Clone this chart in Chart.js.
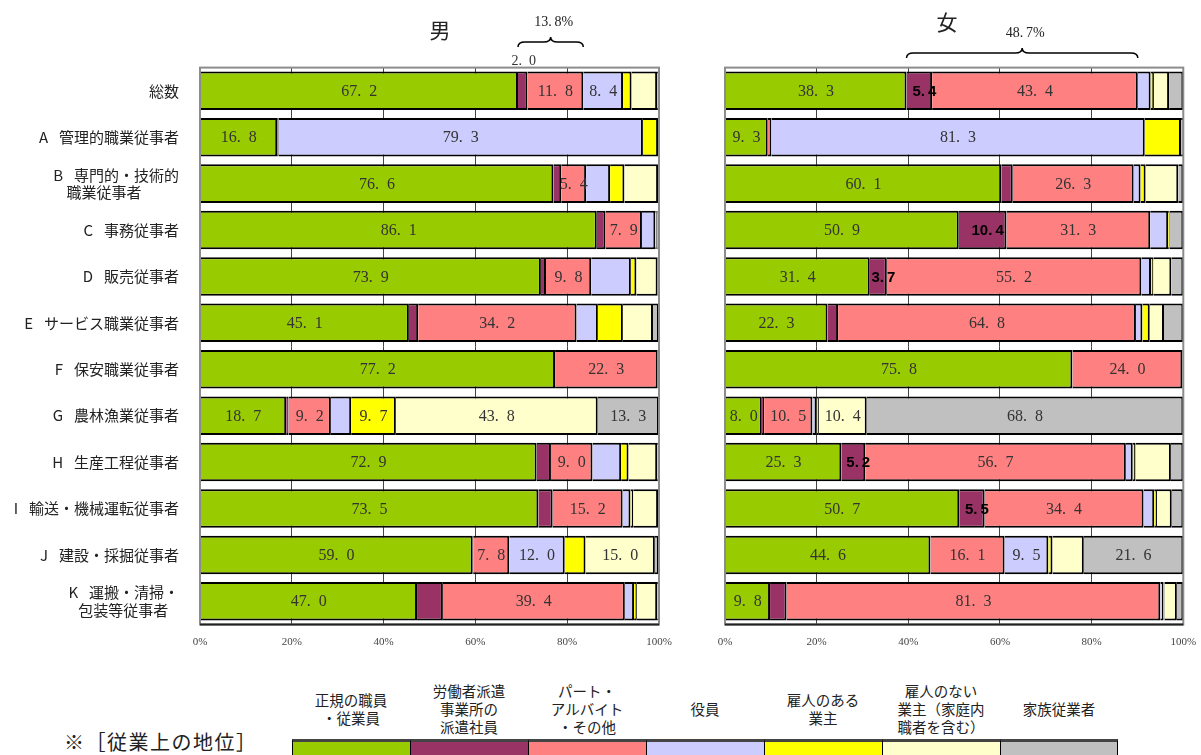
<!DOCTYPE html>
<html lang="ja">
<head>
<meta charset="utf-8">
<script src="https://cdn.jsdelivr.net/npm/chart.js@4.4.1/dist/chart.umd.min.js"></script>
<style>
  html, body { margin: 0; padding: 0; background: #fff; }
  body { width: 1201px; height: 755px; position: relative; overflow: hidden;
         font-family: "Noto Sans CJK JP", sans-serif; color: #222; }
  #male { position: absolute; left: 0; top: 0; }
  #female { position: absolute; left: 690px; top: 0; }
  #legendTitle { position: absolute; left: 64px; top: 729px; font-size: 20px; line-height: 26px; letter-spacing: 1.5px; }
  #legend { position: absolute; left: 292px; top: 680px; width: 826px; }
  .col { position: absolute; top: 0; width: 118px; }
  .txt { height: 58px; display: flex; align-items: center; justify-content: center;
         text-align: center; font-size: 14.5px; line-height: 18px; }
  .box { height: 20px; margin-top: 1px; border-top: 3px solid #444; border-left: 1px solid #000;
         box-sizing: border-box; }
</style>
</head>
<body>
<canvas id="male" width="690" height="660"></canvas>
<canvas id="female" width="531" height="660"></canvas>
<div id="legendTitle">※［従業上の地位］</div>
<div id="legend"></div>
<script>
    // Categories (occupation groups)
    const categories = [
        '総数',
        'A\u2002 管理的職業従事者',
        ['B\u2002 専門的・技術的', '職業従事者\u3000\u3000\u2002'],
        'C\u2002 事務従事者',
        'D\u2002 販売従事者',
        'E\u2002 サービス職業従事者',
        'F\u2002 保安職業従事者',
        'G\u2002 農林漁業従事者',
        'H\u2002 生産工程従事者',
        'I\u2002 輸送・機械運転従事者',
        'J\u2002 建設・採掘従事者',
        ['K\u2002 運搬・清掃・', '包装等従事者\u2002 ']
    ];

    // Employment status series
    const seriesNames = [
        ['正規の職員', '・従業員'],
        ['労働者派遣', '事業所の', '派遣社員'],
        ['パート・', 'アルバイト', '・その他'],
        ['役員'],
        ['雇人のある', '業主'],
        ['雇人のない', '業主（家庭内', '職者を含む）'],
        ['家族従業者']
    ];
    const seriesColors = ['#99CC00', '#993366', '#FF8080', '#CCCCFF', '#FFFF00', '#FFFFCC', '#C0C0C0'];

    // Male values (%)
    const maleRegular   = [67.2, 16.8, 76.6, 86.1, 73.9, 45.1, 77.2, 18.7, 72.9, 73.5, 59.0, 47.0];
    const maleDispatch  = [2.0, 0.3, 1.7, 1.9, 1.1, 2.0, 0, 0.5, 3.1, 3.1, 0.1, 5.6];
    const malePart      = [11.8, 0, 5.4, 7.9, 9.8, 34.2, 22.3, 9.2, 9.0, 15.2, 7.8, 39.4];
    const maleExec      = [8.4, 79.3, 5.2, 2.9, 8.6, 4.6, 0.1, 4.4, 6.2, 1.7, 12.0, 2.0];
    const maleEmployer  = [1.8, 3.3, 3.1, 0.3, 1.2, 5.4, 0, 9.7, 1.6, 0.6, 4.5, 0.6];
    const maleSelf      = [5.4, 0, 7.3, 0.2, 4.6, 6.5, 0, 43.8, 6.2, 5.4, 15.0, 4.4];
    const maleFamily    = [0.4, 0.2, 0.2, 0.3, 0.3, 1.3, 0.2, 13.3, 0.4, 0.2, 0.9, 0.4];

    // Female values (%)
    const femaleRegular  = [38.3, 9.3, 60.1, 50.9, 31.4, 22.3, 75.8, 8.0, 25.3, 50.7, 44.6, 9.8];
    const femaleDispatch = [5.4, 0, 2.5, 10.4, 3.7, 2.3, 0, 0.5, 5.2, 5.5, 0, 3.6];
    const femalePart     = [43.4, 0.8, 26.3, 31.3, 55.2, 64.8, 24.0, 10.5, 56.7, 34.4, 16.1, 81.3];
    const femaleExec     = [2.7, 81.3, 1.5, 3.9, 2.1, 1.4, 0, 0.9, 1.5, 2.3, 9.5, 0.7];
    const femaleEmployer = [0.7, 7.9, 1.1, 0.3, 0.5, 1.6, 0, 0.5, 0.6, 0.6, 0.9, 0.2];
    const femaleSelf     = [3.2, 0.2, 7.1, 0.1, 3.9, 3.1, 0, 10.4, 7.7, 3.2, 6.8, 2.7];
    const femaleFamily   = [3.0, 0.3, 1.1, 2.9, 2.6, 4.2, 0.2, 68.8, 2.7, 2.5, 21.6, 1.4];

    // Which rows carry a value label, per series
    const allRows = [0, 1, 2, 3, 4, 5, 6, 7, 8, 9, 10, 11];
    const maleShown = [allRows, [0], [0, 2, 3, 4, 5, 6, 7, 8, 9, 10, 11], [0, 1, 10], [7], [7, 10], [7]];
    const femaleShown = [allRows, [0, 3, 4, 8, 9], [0, 2, 3, 4, 5, 6, 7, 8, 9, 10, 11], [1, 10], [], [7], [7, 10]];

    const braceLabels = ['13.8%', '48.7%'];
    const tickValues = [0, 20, 40, 60, 80, 100];

    const maleSeries = [maleRegular, maleDispatch, malePart, maleExec, maleEmployer, maleSelf, maleFamily];
    const femaleSeries = [femaleRegular, femaleDispatch, femalePart, femaleExec, femaleEmployer, femaleSelf, femaleFamily];

    const serif = '"Liberation Serif", "Noto Sans CJK JP", serif';
    const fmt = s => s.replace('.', '.\u2002');

    // 100% stacked: each row scaled by its own total
    function toDatasets(series) {
        const sums = categories.map((_, r) => series.reduce((a, s) => a + s[r], 0));
        return series.map((s, i) => ({
            label: seriesNames[i].join(''),
            data: s.map((v, r) => v > 0 ? v / sums[r] * 100 : null),
            backgroundColor: seriesColors[i],
            borderColor: '#000',
            borderWidth: 2,
            borderSkipped: 'start',
            barPercentage: 0.83,
            categoryPercentage: 1
        }));
    }

    function drawBrace(ctx, x1, x2, yt, yb) {
        const ym = (yt + yb) / 2, mid = (x1 + x2) / 2, r = 7;
        ctx.beginPath();
        ctx.moveTo(x1, yb);
        ctx.quadraticCurveTo(x1, ym, x1 + r, ym);
        ctx.lineTo(mid - r, ym);
        ctx.quadraticCurveTo(mid, ym, mid, yt);
        ctx.quadraticCurveTo(mid, ym, mid + r, ym);
        ctx.lineTo(x2 - r, ym);
        ctx.quadraticCurveTo(x2, ym, x2, yb);
        ctx.stroke();
    }

    function makePlugin(series, shown, panel) {
        return {
            id: 'decor_' + panel.name,
            afterDatasetsDraw(chart) {
                const ctx = chart.ctx;
                ctx.save();
                ctx.textAlign = 'center';
                ctx.textBaseline = 'middle';
                series.forEach((s, si) => {
                    const meta = chart.getDatasetMeta(si);
                    shown[si].forEach(ri => {
                        const el = meta.data[ri];
                        const p = el.getProps(['x', 'base', 'y', 'height'], true);
                        const cx = (p.x + p.base) / 2;
                        const txt = s[ri].toFixed(1);
                        if (si === 1 && panel.name === 'male') {
                            ctx.font = '14px ' + serif;
                            ctx.fillStyle = '#333';
                            ctx.fillText(fmt(txt), cx + 1, p.y - p.height / 2 - 10);
                        } else if (si === 1) {
                            ctx.font = 'bold 15px "Liberation Sans", sans-serif';
                            ctx.fillStyle = '#000';
                            ctx.fillText(txt.replace('.', '.\u2009'), cx + 5, p.y + 1);
                        } else {
                            ctx.font = '16px ' + serif;
                            ctx.fillStyle = '#333';
                            ctx.fillText(fmt(txt), cx, p.y + 1);
                        }
                    });
                });
                ctx.restore();
            },
            afterDraw(chart) {
                const ctx = chart.ctx, a = chart.chartArea;
                ctx.save();
                // plot frame
                ctx.strokeStyle = '#8c8c8c';
                ctx.lineWidth = 2;
                ctx.strokeRect(a.left, a.top, a.right - a.left, a.bottom - a.top);
                ctx.strokeStyle = '#222';
                ctx.beginPath();
                ctx.moveTo(a.left, a.bottom);
                ctx.lineTo(a.right, a.bottom);
                ctx.stroke();
                // title
                ctx.fillStyle = '#222';
                ctx.textAlign = 'center';
                ctx.textBaseline = 'middle';
                ctx.font = '21px "Noto Sans CJK JP", sans-serif';
                ctx.fillText(panel.title, panel.titleX, panel.titleY);
                // brace over dispatch + part-time of the total row
                const x1 = chart.getDatasetMeta(1).data[0].getProps(['base'], true).base;
                const x2 = chart.getDatasetMeta(2).data[0].getProps(['x'], true).x;
                ctx.strokeStyle = '#000';
                ctx.lineWidth = 1.5;
                drawBrace(ctx, x1, x2, panel.braceTop, panel.braceTop + 10);
                ctx.font = '14px ' + serif;
                ctx.fillText(panel.braceText.replace('.', '.\u2009'), (x1 + x2) / 2 + 3, panel.braceTop - 15);
                ctx.restore();
            }
        };
    }

    function makeChart(id, series, shown, panel) {
        return new Chart(document.getElementById(id), {
            type: 'bar',
            data: { labels: categories, datasets: toDatasets(series) },
            options: {
                indexAxis: 'y',
                responsive: false,
                animation: false,
                events: [],
                layout: { padding: { left: panel.padLeft, right: panel.padRight, top: 67.6, bottom: 0 } },
                plugins: { legend: { display: false }, tooltip: { enabled: false } },
                scales: {
                    x: {
                        stacked: true, min: 0, max: 100,
                        afterBuildTicks: s => { s.ticks = tickValues.map(v => ({ value: v })); },
                        afterFit: s => { s.height = 35.5; },
                        grid: { color: '#444', lineWidth: 1, drawTicks: false },
                        border: { display: false },
                        ticks: { callback: v => v + '%', color: '#444', padding: 11,
                                 font: { family: serif, size: 11 } }
                    },
                    y: {
                        stacked: true,
                        display: panel.showLabels,
                        afterFit: s => { s.width = panel.showLabels ? 200 : 0; },
                        grid: { display: false },
                        border: { display: false },
                        ticks: { color: '#222', padding: 13,
                                 font: { family: '"Noto Sans CJK JP", sans-serif', size: 15, lineHeight: 1.15 } }
                    }
                }
            },
            plugins: [makePlugin(series, shown, panel)]
        });
    }

    makeChart('male', maleSeries, maleShown, {
        name: 'male', title: '男', titleX: 440, titleY: 30, braceTop: 37,
        braceText: braceLabels[0], padLeft: 0, padRight: 31, showLabels: true
    });
    makeChart('female', femaleSeries, femaleShown, {
        name: 'female', title: '女', titleX: 257, titleY: 22, braceTop: 48,
        braceText: braceLabels[1], padLeft: 35, padRight: 37.7, showLabels: false
    });

    // Legend below the charts
    const legend = document.getElementById('legend');
    legend.innerHTML = seriesNames.map((lines, i) => `
        <div class="col" style="left:${i * 118}px">
            <div class="txt"><div>${lines.join('<br>')}</div></div>
            <div class="box" style="background:${seriesColors[i]};${i === seriesNames.length - 1 ? 'border-right:1px solid #000;' : ''}"></div>
        </div>
    `).join('');
</script>
</body>
</html>
